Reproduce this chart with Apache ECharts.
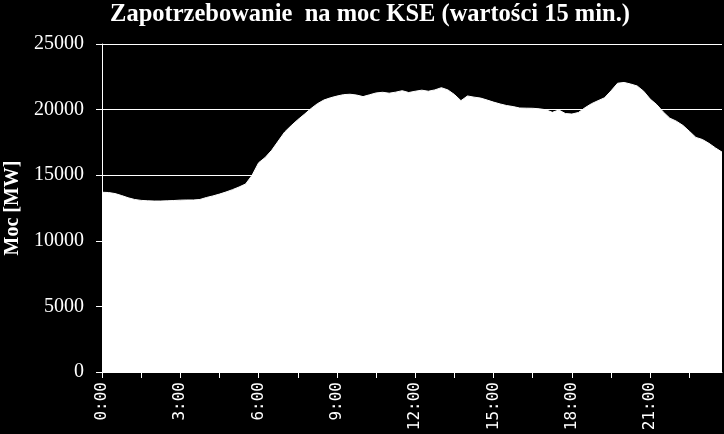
<!DOCTYPE html>
<html>
<head>
<meta charset="utf-8">
<script src="https://cdn.jsdelivr.net/npm/echarts@6/dist/echarts.min.js"></script>
<style>
html,body{margin:0;padding:0;background:#000;}
#chart{width:724px;height:434px;}
</style>
</head>
<body>
<div id="chart"></div>
<script>
const titleText = 'Zapotrzebowanie  na moc KSE (wartości 15 min.)';
const yAxisName = 'Moc [MW]';
const yTicks = [0, 5000, 10000, 15000, 20000, 25000];

// 15-minute time stamps 0:00 ... 23:45
const times = [];
for (let h = 0; h < 24; h++) {
  for (let m = 0; m < 60; m += 15) {
    times.push(h + ':' + (m === 0 ? '00' : String(m)));
  }
}

const demand = [
  13700, 13680, 13600, 13450, 13280, 13150, 13080, 13050,
  13030, 13030, 13050, 13070, 13100, 13110, 13110, 13150,
  13300, 13420, 13560, 13720, 13900, 14100, 14330, 15000,
  15950, 16350, 16900, 17600, 18300, 18780, 19230, 19640,
  20070, 20450, 20730, 20900, 21030, 21140, 21170, 21110,
  20990, 21130, 21270, 21320, 21250, 21330, 21440, 21300,
  21400, 21480, 21400, 21500, 21670, 21500, 21150, 20680,
  21040, 20950, 20880, 20730, 20570, 20430, 20310, 20230,
  20120, 20110, 20100, 20060, 19990, 19790, 19970, 19700,
  19660, 19780, 20140, 20450, 20680, 20900, 21430, 22010,
  22070, 21950, 21800, 21400, 20800, 20380, 19820, 19350,
  19120, 18800, 18350, 17880, 17720, 17430, 17080, 16760
];

const chart = echarts.init(document.getElementById('chart'), null, {renderer: 'canvas'});
chart.setOption({
  backgroundColor: '#000',
  animation: false,
  title: {
    text: titleText,
    left: 365,
    top: -3,
    textAlign: 'center',
    textStyle: {
      color: '#fff',
      fontFamily: '"Liberation Serif", "Times New Roman", serif',
      fontWeight: 'bold',
      fontSize: 24.5
    }
  },
  grid: {left: 102, right: 2, top: 44, bottom: 62, containLabel: false, outerBoundsMode: 'none'},
  xAxis: {
    type: 'category',
    data: times,
    boundaryGap: false,
    axisLine: {show: true, lineStyle: {color: '#fff', width: 1}},
    axisTick: {show: true, interval: 5, length: 6, lineStyle: {color: '#fff'}},
    axisLabel: {
      interval: 11,
      rotate: 90,
      color: '#fff',
      margin: 10,
      fontFamily: '"DejaVu Sans Mono", monospace',
      fontSize: 16
    },
    splitLine: {show: false}
  },
  yAxis: {
    type: 'value',
    min: yTicks[0],
    max: yTicks[yTicks.length - 1],
    interval: 5000,
    name: yAxisName,
    nameLocation: 'middle',
    nameGap: 79,
    nameRotate: 90,
    nameTextStyle: {
      color: '#fff',
      fontFamily: '"Liberation Serif", "Times New Roman", serif',
      fontWeight: 'bold',
      fontSize: 20
    },
    axisLine: {show: true, lineStyle: {color: '#fff', width: 1}},
    axisTick: {show: true, length: 6, lineStyle: {color: '#fff'}},
    axisLabel: {
      color: '#fff',
      margin: 18,
      fontFamily: '"Liberation Serif", "Times New Roman", serif',
      fontSize: 20,
      formatter: function (v) { return String(v); }
    },
    splitLine: {show: true, lineStyle: {color: '#fff', width: 1}}
  },
  series: [{
    type: 'line',
    data: demand,
    symbol: 'none',
    smooth: false,
    lineStyle: {color: '#fff', width: 1},
    areaStyle: {color: '#fff', opacity: 1},
    z: 1
  }]
});
</script>
</body>
</html>
